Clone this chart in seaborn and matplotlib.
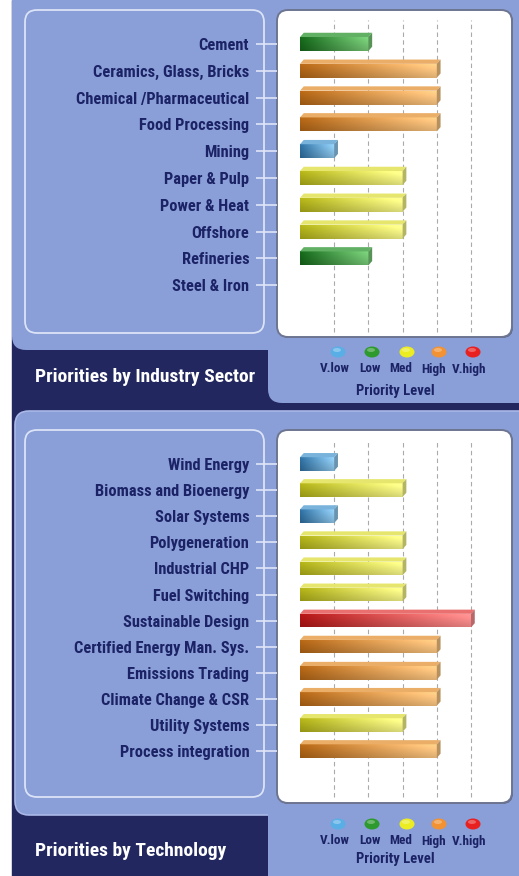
import numpy as np
import pandas as pd
import matplotlib
matplotlib.use("Agg")
import matplotlib.pyplot as plt
import seaborn as sns
from matplotlib import font_manager
from matplotlib.patches import FancyBboxPatch, Polygon, Ellipse, Rectangle
from matplotlib.colors import to_rgb

# ---------------- data ----------------
levels = ["V.low", "Low", "Med", "High", "V.high"]
level_colors = ["#3d86bd", "#23862a", "#c9c92c", "#d2842a", "#d22222"]
level_dark = ["#2a6796", "#136018", "#a5a516", "#a85f14", "#a81414"]
level_light = ["#8cc4e8", "#74c474", "#f0f086", "#f4c07e", "#f48a8a"]
dot_colors = ["#5aaee6", "#2e9a2e", "#ecec22", "#f29232", "#e82020"]

sector_labels = ["Cement", "Ceramics, Glass, Bricks", "Chemical /Pharmaceutical",
                 "Food Processing", "Mining", "Paper & Pulp", "Power & Heat",
                 "Offshore", "Refineries", "Steel & Iron"]
sector_values = [2, 4, 4, 4, 1, 3, 3, 3, 2, 0]

tech_labels = ["Wind Energy", "Biomass and Bioenergy", "Solar Systems",
               "Polygeneration", "Industrial CHP", "Fuel Switching",
               "Sustainable Design", "Certified Energy Man. Sys.",
               "Emissions Trading", "Climate Change & CSR", "Utility Systems",
               "Process integration"]
tech_values = [1, 3, 1, 3, 3, 3, 5, 4, 4, 4, 3, 4]

panel_titles = ["Priorities by Industry Sector", "Priorities by Technology"]
legend_title = "Priority Level"

# ---------------- style ----------------
names = {f.name for f in font_manager.fontManager.ttflist}
FONT = "DejaVu Sans"
for cand in ["Liberation Sans Narrow", "DejaVu Sans Condensed", "Roboto Condensed",
             "Open Sans Condensed", "Liberation Sans"]:
    if cand in names:
        FONT = cand
        break
sns.set_style("white")
plt.rcParams["font.family"] = [FONT, "DejaVu Sans"]

NAVY = "#22275f"
LIGHT = "#8a9ed7"
TEXT = "#1b2366"

W, H = 519, 876
fig = plt.figure(figsize=(W / 100, H / 100), dpi=100)
fig.patch.set_facecolor("white")
bg = fig.add_axes([0, 0, 1, 1])
bg.set_xlim(0, W)
bg.set_ylim(H, 0)
bg.axis("off")


def rbox(x, y, w, h, r, **kw):
    p = FancyBboxPatch((x, y), w, h, boxstyle=f"round,pad=0,rounding_size={r}", **kw)
    bg.add_patch(p)
    return p


# navy base
bg.add_patch(Rectangle((12, 0), W, H, color=NAVY, zorder=0))
# top panel light areas
rbox(12, -40, 560, 390, 14, facecolor=LIGHT, edgecolor="none", zorder=1)
rbox(268, 300, 300, 103, 14, facecolor=LIGHT, edgecolor="none", zorder=1)
# bottom panel light areas
rbox(15, 411, 560, 404, 14, facecolor=LIGHT, edgecolor="#a9b8e6", lw=1.2, zorder=1)
rbox(268, 770, 300, 140, 14, facecolor=LIGHT, edgecolor="none", zorder=1)
bg.add_patch(Rectangle((16, 760), W, 40, color=LIGHT, zorder=1.1))

# label boxes
rbox(25, 10, 239, 323, 12, facecolor="none", edgecolor="#dbe3f7", lw=1.3, zorder=2)
rbox(25, 430, 239, 367, 12, facecolor="none", edgecolor="#dbe3f7", lw=1.3, zorder=2)
# white plot boxes
for (yy, hh) in [(10, 327), (430, 373)]:
    rbox(278, yy + 1, 235, hh, 11, facecolor="#55607f", edgecolor="none", zorder=2)
    rbox(277, yy, 235, hh, 11, facecolor="white", edgecolor="#6d7590", lw=1.4, zorder=3)

# banners
bg.text(35, 377, panel_titles[0], color="white", fontsize=14, fontweight="bold",
        va="center", ha="left", zorder=5)
bg.text(35, 851, panel_titles[1], color="white", fontsize=14, fontweight="bold",
        va="center", ha="left", zorder=5)

# legends
dot_x = [338, 372, 407, 439, 473]
lab_x = [335, 370, 401, 434, 469]
for (ydot, ylab, ytit) in [(352, 369, 391), (824, 841, 859)]:
    for lv, dc, dx, lx in zip(levels, dot_colors, dot_x, lab_x):
        bg.add_patch(Ellipse((dx, ydot), 15, 11, facecolor=dc, edgecolor="none", zorder=5))
        bg.add_patch(Ellipse((dx - 1, ydot - 2), 8, 4, facecolor="white", alpha=0.3,
                             edgecolor="none", zorder=6))
        bg.text(lx, ylab, lv, color=TEXT, fontsize=9.5, fontweight="bold",
                ha="center", va="center", zorder=5)
    bg.text(395, ytit, legend_title, color=TEXT, fontsize=10.5, fontweight="bold",
            ha="center", va="center", zorder=5)


def level_of(v):
    return levels[int(v) - 1] if v >= 1 else "V.low"


def draw_panel(labels, values, box_top, box_bot, row0, row_step):
    ax = fig.add_axes([277 / W, 1 - box_bot / H, 235 / W, (box_bot - box_top) / H])
    ax.set_facecolor("none")
    df = pd.DataFrame({"label": labels, "value": values,
                       "level": [level_of(v) for v in values]})
    sns.barplot(data=df, y="label", x="value", hue="level", hue_order=levels,
                palette=level_colors, orient="h", dodge=False, width=0.52,
                legend=False, ax=ax, zorder=3)
    x0p, unit = 300, 34.2
    xl = (-(x0p - 277) / unit, (512 - x0p) / unit)
    yl = ((box_bot - row0) / row_step, (box_top - row0) / row_step)
    for v in range(1, 6):
        ax.axvline(v, ymin=0.015, ymax=0.97, color="#aaaaaa", lw=0.8,
                   ls=(0, (4, 3)), zorder=1)
    rgb_cols = [np.array(to_rgb(c)) for c in level_colors]
    dy, dxp = 0.16, 0.11
    for p in list(ax.patches):
        bb = p.get_bbox()
        x0, x1 = bb.x0, bb.x1
        if x1 - x0 < 1e-6:
            continue
        fc = np.array(p.get_facecolor()[:3])
        k = int(np.argmin([np.abs(fc - c).sum() for c in rgb_cols]))
        dark = np.array(to_rgb(level_dark[k]))
        light = np.array(to_rgb(level_light[k]))
        ytop, ybot = min(bb.y0, bb.y1), max(bb.y0, bb.y1)
        t = np.linspace(0, 1, 128)[None, :, None]
        s = np.linspace(1.12, 0.9, 24)[:, None, None]
        img = np.clip((dark * (1 - t) + light * t) * s, 0, 1)
        p.set_linewidth(0)
        im = ax.imshow(img, extent=(x0, x1, ybot, ytop), aspect="auto",
                       zorder=3.5, interpolation="bilinear")
        im.set_clip_path(p)
        topc = np.clip(dark * 0.4 + light * 0.6 + 0.08, 0, 1)
        ax.add_patch(Polygon([(x0, ytop), (x0 + dxp, ytop - dy), (x1 + dxp, ytop - dy),
                              (x1, ytop)], closed=True, facecolor=topc,
                             edgecolor="none", zorder=3.6))
        endc = np.clip(light * 0.75, 0, 1)
        ax.add_patch(Polygon([(x1, ytop), (x1 + dxp, ytop - dy), (x1 + dxp, ybot - dy),
                              (x1, ybot)], closed=True, facecolor=endc,
                             edgecolor="none", zorder=3.6))
    ax.set_xlim(*xl)
    ax.set_ylim(*yl)
    ax.set_xlabel("")
    ax.set_ylabel("")
    ax.set_xticks([])
    for s in ax.spines.values():
        s.set_visible(False)
    ax.tick_params(axis="y", length=15, pad=5, color="#dfe6f7", width=1.2,
                   labelsize=11.8, labelcolor=TEXT, left=True)
    for tl in ax.get_yticklabels():
        tl.set_fontweight("bold")
    return ax


draw_panel(sector_labels, sector_values, 10, 337, 44, 26.8)
draw_panel(tech_labels, tech_values, 430, 803, 464, 26.1)

fig.savefig("out.png", dpi=100)
